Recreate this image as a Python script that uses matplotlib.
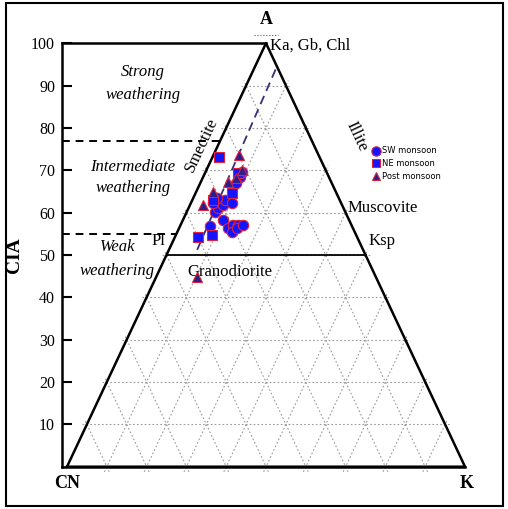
import matplotlib.pyplot as plt
import matplotlib.patches as mpatches
import numpy as np

plt.rcParams['font.family'] = ['Liberation Serif', 'DejaVu Serif']

# ternary data: CIA (= A %) and K %
sw_cia = [56.8, 58.3, 56.4, 57.1, 57.1, 55.5, 56.4, 57.1, 60.1, 61.1,
          61.8, 63.0, 62.3, 62.3, 63.4, 68.4, 69.6, 67.0]
sw_k = [7.5, 10.0, 12.2, 13.1, 14.4, 13.7, 14.5, 15.6, 7.1, 7.3,
        8.3, 8.2, 10.3, 5.5, 6.0, 9.3, 9.2, 9.0]
ne_cia = [73.1, 54.2, 54.7, 64.6, 62.9, 69.3]
ne_k = [1.7, 5.8, 9.0, 9.1, 5.3, 8.3]
post_cia = [73.6, 61.8, 44.9, 64.9, 67.2, 70.1, 68.2]
post_k = [6.5, 3.3, 10.2, 4.2, 6.8, 8.8, 8.4]
trend_cia = [51.2, 94.1]
trend_k = [7.1, 5.5]

ticks = [10, 20, 30, 40, 50, 60, 70, 80, 90, 100]


def tx(cia, k):
    cia = np.asarray(cia, float)
    return np.asarray(k, float) + cia / 2, cia


fig = plt.figure(figsize=(5.08, 5.09), dpi=100)
ax = fig.add_axes([62 / 508, (509 - 466.7) / 509, (465 - 62) / 508, (466.7 - 43.2) / 509])
ax.set_xlim(-1.26, 100)
ax.set_ylim(0, 100)
for s in ['top', 'right']:
    ax.spines[s].set_visible(False)
ax.spines['left'].set_linewidth(1.8)
ax.spines['bottom'].set_linewidth(1.8)
ax.set_xticks([])
ax.set_yticks(ticks)
ax.set_yticklabels([str(t) for t in ticks], fontsize=11.5)
ax.tick_params(axis='y', direction='in', length=7, width=1.5, pad=5)
ax.plot([-1.26, 50], [100, 100], color='black', lw=1.8, clip_on=False)

# grid
gkw = dict(color='#9a9a9a', lw=0.8, linestyle=(0, (1.5, 2)), zorder=1, clip_on=False)
e = 1.2
for g in range(10, 100, 10):
    ax.plot([g / 2 - e, 100 - g / 2 + e], [g, g], **gkw)
    ax.plot([g - e / 2, g + (100 - g) / 2 + e / 2], [-e, 100 - g + e], **gkw)
    ax.plot([100 - g + e / 2, (100 - g) / 2 - e / 2], [-e, 100 - g + e], **gkw)

# triangle
ax.plot([0, 50, 100, 0], [0, 100, 0, 0], color='black', lw=1.8, zorder=3, clip_on=False)
ax.plot([25, 75], [50, 50], color='black', lw=1.3, zorder=3)

# weathering limits
ax.plot([-1.26, 77 / 2], [77, 77], color='black', lw=1.4, ls=(0, (4, 3)))
ax.plot([-1.26, 55 / 2], [55, 55], color='black', lw=1.4, ls=(0, (4, 3)))

# trend
x, y = tx(trend_cia, trend_k)
ax.plot(x, y, color='#35307a', lw=1.3, ls=(0, (5, 3)), zorder=4)

# samples
x, y = tx(sw_cia, sw_k)
ax.plot(x, y, 'o', ms=7.5, mfc='#1414ff', mec='#e0203a', mew=0.8, ls='none',
        label='SW monsoon', zorder=5)
x, y = tx(ne_cia, ne_k)
ax.plot(x, y, 's', ms=6.5, mfc='#1414ff', mec='#e0203a', mew=0.8, ls='none',
        label='NE monsoon', zorder=5)
x, y = tx(post_cia, post_k)
ax.plot(x, y, '^', ms=6.5, mfc='#2a1f8a', mec='#e0203a', mew=0.8, ls='none',
        label='Post monsoon', zorder=6)

ax.legend(loc='upper left', bbox_to_anchor=(0.755, 0.77), frameon=False,
          prop={'family': 'DejaVu Sans', 'size': 6}, handletextpad=0.2,
          labelspacing=0.45, markerscale=0.9, borderpad=0.2, handlelength=1.0)

# labels
ax.text(50, 103.5, 'A', fontsize=13, fontweight='bold', ha='center', va='bottom')
ax.plot([47, 53], [102, 102], color='#555555', lw=0.8, ls=':', clip_on=False)
ax.text(51, 99.5, 'Ka, Gb, Chl', fontsize=12, ha='left', va='center')
ax.text(72.7, 78, 'Illite', fontsize=12, rotation=-64.9, ha='center', va='center')
ax.text(33.7, 75.9, 'Smectite', fontsize=12, rotation=64.9, ha='center', va='center')
ax.text(70.5, 61, 'Muscovite', fontsize=12, ha='left', va='center')
ax.text(75.8, 51.3, 'Ksp', fontsize=12, ha='left', va='bottom')
ax.text(24.6, 51.3, 'Pl', fontsize=12, ha='right', va='bottom')
ax.text(41, 46, 'Granodiorite', fontsize=12, ha='center', va='center')
ax.text(0, -3.9, 'CN', fontsize=13, fontweight='bold', ha='center', va='center')
ax.text(100.5, -3.9, 'K', fontsize=13, fontweight='bold', ha='center', va='center')

ax.text(19.1, 93.2, 'Strong', fontsize=12, style='italic', ha='center', va='center')
ax.text(19.1, 87.8, 'weathering', fontsize=12, style='italic', ha='center', va='center')
ax.text(16.6, 70.8, 'Intermediate', fontsize=12, style='italic', ha='center', va='center')
ax.text(16.6, 65.8, 'weathering', fontsize=12, style='italic', ha='center', va='center')
ax.text(12.7, 51.9, 'Weak', fontsize=12, style='italic', ha='center', va='center')
ax.text(12.7, 46.2, 'weathering', fontsize=12, style='italic', ha='center', va='center')

ax.set_ylabel('CIA', fontsize=14, fontweight='bold', labelpad=6)

fig.patches.append(mpatches.Rectangle((6 / 508, 3 / 509), 497 / 508, 503 / 509,
                                      transform=fig.transFigure, fill=False,
                                      ec='black', lw=1.5))

fig.savefig('out.png', dpi=100)
